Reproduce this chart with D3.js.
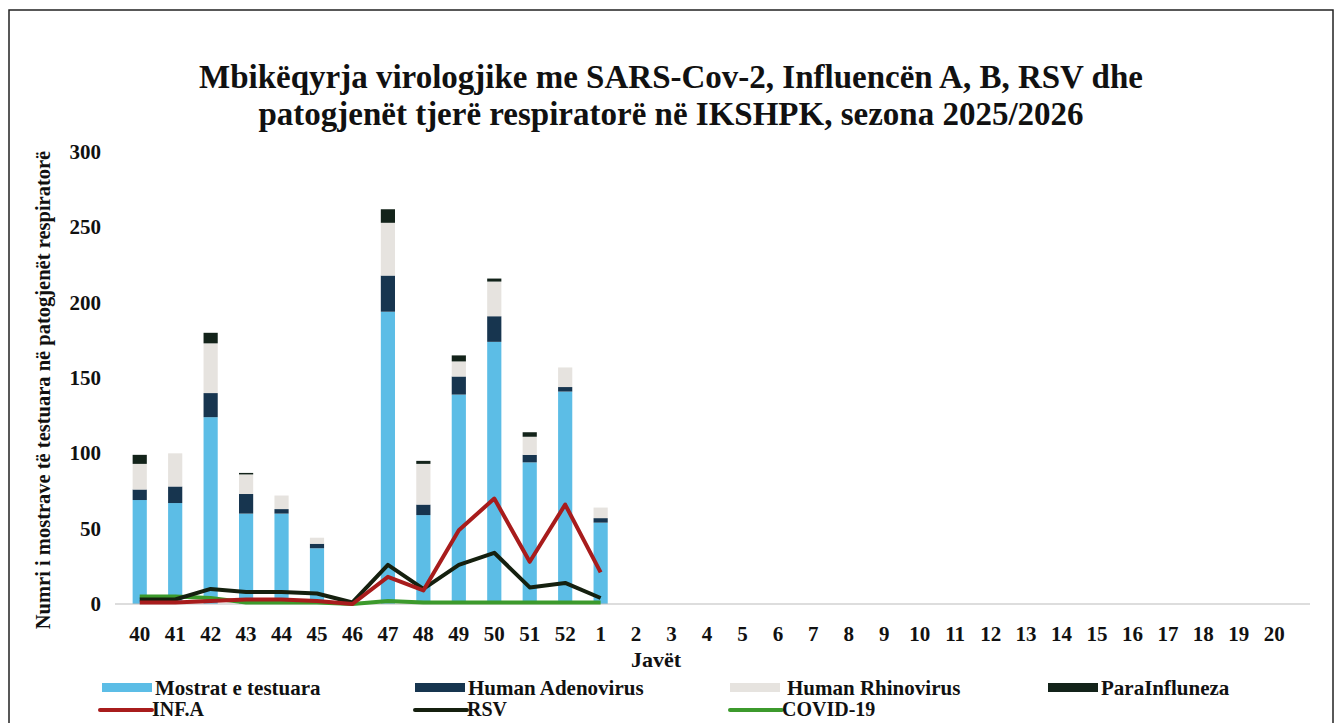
<!DOCTYPE html>
<html>
<head>
<meta charset="utf-8">
<script src="https://cdn.jsdelivr.net/npm/d3@7"></script>
<style>
  body { margin: 0; background: #fff; }
  text { font-family: "Liberation Serif", "Times New Roman", serif; font-weight: bold; fill: #111; }
</style>
</head>
<body>
<svg id="chart" width="1340" height="723"></svg>
<script>
// weeks of the season
const weeks = ['40','41','42','43','44','45','46','47','48','49','50','51','52',
  '1','2','3','4','5','6','7','8','9','10','11','12','13','14','15','16','17','18','19','20'];

// stacked bars (only weeks 40..1 have data)
const mostrat    = [69, 67, 124, 60, 60, 37, 0, 194, 59, 139, 174, 94, 141, 54];
const adenovirus = [7, 11, 16, 13, 3, 3, 0, 24, 7, 12, 17, 5, 3, 3];
const rhinovirus = [17, 22, 33, 13, 9, 4, 0, 35, 27, 10, 23, 12, 13, 7];
const paraInfl   = [6, 0, 7, 1, 0, 0, 0, 9, 2, 4, 2, 3, 0, 0];

// lines
const infA  = [1, 1, 2, 3, 3, 2, 0, 18, 9, 49, 70, 28, 66, 21];
const rsv   = [3, 3, 10, 8, 8, 7, 1, 26, 10, 26, 34, 11, 14, 4];
const covid = [5, 5, 4, 1, 1, 1, 0, 2, 1, 1, 1, 1, 1, 1];

const yTicks = [0, 50, 100, 150, 200, 250, 300];

const svg = d3.select('#chart');

// frame
svg.append('rect')
  .attr('x', 9).attr('y', 10).attr('width', 1324).attr('height', 720)
  .attr('fill', 'none').attr('stroke', '#222').attr('stroke-width', 1.5);

const x = d3.scaleBand().domain(weeks).range([122, 1292]).paddingInner(0.6).paddingOuter(0.3);
const y = d3.scaleLinear().domain([0, 300]).range([604, 152]);

// title
const title = svg.append('text').attr('text-anchor', 'middle').attr('font-size', 33);
title.append('tspan').attr('x', 671).attr('y', 88)
  .text('Mbikëqyrja virologjike me SARS-Cov-2,  Influencën A, B, RSV dhe');
title.append('tspan').attr('x', 671).attr('y', 125)
  .text('patogjenët tjerë respiratorë në IKSHPK, sezona 2025/2026');

// stacked bars
const series = [
  { name: 'Mostrat e testuara', values: mostrat, color: '#5cbde6' },
  { name: 'Human Adenovirus', values: adenovirus, color: '#17354f' },
  { name: 'Human Rhinovirus', values: rhinovirus, color: '#e6e3df' },
  { name: 'ParaInfluneza', values: paraInfl, color: '#13231a' }
];
const rows = mostrat.map((d, i) => {
  const r = { week: weeks[i] };
  series.forEach(s => { r[s.name] = s.values[i]; });
  return r;
});
const stack = d3.stack().keys(series.map(s => s.name))(rows);

svg.append('g').selectAll('g').data(stack).enter().append('g')
  .attr('fill', (d, i) => series[i].color)
  .selectAll('rect').data(d => d).enter().append('rect')
  .attr('x', d => x(d.data.week))
  .attr('width', x.bandwidth())
  .attr('y', d => y(d[1]))
  .attr('height', d => y(d[0]) - y(d[1]));

// baseline
svg.append('line')
  .attr('x1', 115).attr('x2', 1310).attr('y1', y(0)).attr('y2', y(0))
  .attr('stroke', '#bbb').attr('stroke-width', 1);

// lines
const lines = [
  { name: 'INF.A', values: infA, color: '#a81c1c' },
  { name: 'RSV', values: rsv, color: '#15200f' },
  { name: 'COVID-19', values: covid, color: '#3c9a2c' }
];
const line = d3.line()
  .x((d, i) => x(weeks[i]) + x.bandwidth() / 2)
  .y(d => y(d));

svg.append('g').selectAll('path').data(lines.slice().reverse()).enter().append('path')
  .attr('d', d => line(d.values))
  .attr('fill', 'none')
  .attr('stroke', d => d.color)
  .attr('stroke-width', 4)
  .attr('stroke-linejoin', 'round');

// y axis labels
svg.append('g').selectAll('text').data(yTicks).enter().append('text')
  .attr('x', 101).attr('y', d => y(d) + 7)
  .attr('text-anchor', 'end').attr('font-size', 21)
  .text(d => d);

// x axis labels
svg.append('g').selectAll('text').data(weeks).enter().append('text')
  .attr('x', d => x(d) + x.bandwidth() / 2).attr('y', 641)
  .attr('text-anchor', 'middle').attr('font-size', 21)
  .text(d => d);

svg.append('text').attr('x', 656).attr('y', 667)
  .attr('text-anchor', 'middle').attr('font-size', 22).text('Javët');

svg.append('text')
  .attr('transform', 'translate(50,390) rotate(-90)')
  .attr('text-anchor', 'middle').attr('font-size', 20.5)
  .text('Numri i mostrave të testuara në patogjenët respiratorë');

// legend
const legendBars = [
  { s: series[0], x: 102 },
  { s: series[1], x: 415 },
  { s: series[2], x: 730 },
  { s: series[3], x: 1048 }
];
legendBars.forEach(l => {
  svg.append('rect').attr('x', l.x).attr('y', 683).attr('width', 50).attr('height', 9)
    .attr('fill', l.s.color);
  svg.append('text').attr('x', l.x + (l.s === series[2] ? 57 : 53)).attr('y', 695)
    .attr('font-size', 21).text(l.s.name);
});
const legendLines = [
  { s: lines[0], x: 100 },
  { s: lines[1], x: 415 },
  { s: lines[2], x: 730 }
];
legendLines.forEach(l => {
  svg.append('line').attr('x1', l.x).attr('x2', l.x + 52).attr('y1', 710).attr('y2', 710)
    .attr('stroke', l.s.color).attr('stroke-width', 4).attr('stroke-linecap', 'round');
  svg.append('text').attr('x', l.x + 52).attr('y', 716)
    .attr('font-size', 20).text(l.s.name);
});
</script>
</body>
</html>
